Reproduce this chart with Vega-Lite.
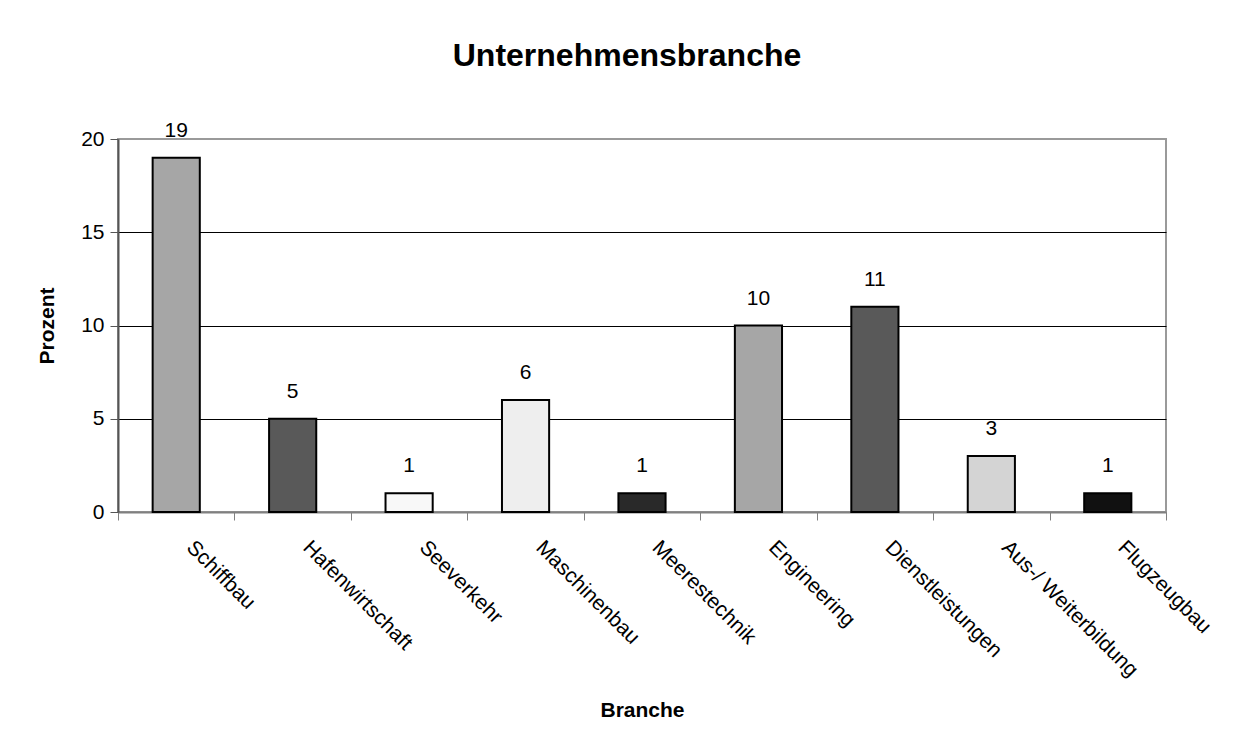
{
  "$schema": "https://vega.github.io/schema/vega-lite/v6.json",
  "autosize": {"type": "none"},
  "width": 1048,
  "height": 373,
  "padding": {"left": 118, "top": 139, "right": 74, "bottom": 239},
  "background": "white",
  "config": {
    "font": "Liberation Sans",
    "view": {"stroke": "#9a9a9a", "strokeWidth": 2}
  },
  "title": {
    "text": "Unternehmensbranche",
    "fontSize": 32,
    "fontWeight": "bold",
    "font": "Liberation Sans",
    "anchor": "middle",
    "dx": -15,
    "offset": 47,
    "color": "black"
  },
  "data": {
    "values": [
      {"Branche": "Schiffbau", "Prozent": 19, "Farbe": "#a6a6a6"},
      {"Branche": "Hafenwirtschaft", "Prozent": 5, "Farbe": "#595959"},
      {"Branche": "Seeverkehr", "Prozent": 1, "Farbe": "#f8f8f8"},
      {"Branche": "Maschinenbau", "Prozent": 6, "Farbe": "#eeeeee"},
      {"Branche": "Meerestechnik", "Prozent": 1, "Farbe": "#292929"},
      {"Branche": "Engineering", "Prozent": 10, "Farbe": "#a6a6a6"},
      {"Branche": "Dienstleistungen", "Prozent": 11, "Farbe": "#595959"},
      {"Branche": "Aus-/ Weiterbildung", "Prozent": 3, "Farbe": "#d4d4d4"},
      {"Branche": "Flugzeugbau", "Prozent": 1, "Farbe": "#111111"}
    ]
  },
  "encoding": {
    "x": {
      "field": "Branche",
      "type": "nominal",
      "sort": null,
      "scale": {"paddingInner": 0, "paddingOuter": 0},
      "axis": {
        "title": "Branche",
        "titleFontSize": 21,
        "titleFontWeight": "bold",
        "titleColor": "black",
        "titlePadding": 19,
        "labelAngle": 45,
        "labelAlign": "left",
        "labelBaseline": "bottom",
        "labelFontSize": 21,
        "labelColor": "black",
        "labelPadding": 31,
        "labelOffset": 6,
        "labelLimit": 0,
        "labelOverlap": false,
        "tickBand": "extent",
        "tickSize": 8,
        "tickColor": "#808080",
        "domainColor": "#808080",
        "domainWidth": 2
      }
    },
    "y": {
      "field": "Prozent",
      "type": "quantitative",
      "scale": {"domain": [0, 20]},
      "axis": {
        "title": "Prozent",
        "titleFontSize": 21,
        "titleFontWeight": "bold",
        "titleColor": "black",
        "titlePadding": 23,
        "values": [0, 5, 10, 15, 20],
        "labelFontSize": 21,
        "labelColor": "black",
        "labelPadding": 6,
        "tickSize": 8,
        "tickColor": "#555555",
        "domainColor": "#555555",
        "domainWidth": 2,
        "grid": true,
        "gridColor": {"condition": {"test": "datum.value == 20 || datum.value == 0", "value": "#9a9a9a"}, "value": "black"},
        "gridWidth": 1.2
      }
    }
  },
  "layer": [
    {
      "mark": {"type": "bar", "stroke": "black", "strokeWidth": 2, "width": {"band": 0.405}},
      "encoding": {
        "color": {"field": "Farbe", "type": "nominal", "scale": null}
      }
    },
    {
      "mark": {"type": "text", "fontSize": 21, "baseline": "bottom", "dy": -17, "color": "black"},
      "encoding": {
        "text": {"field": "Prozent", "type": "quantitative"}
      }
    }
  ]
}
